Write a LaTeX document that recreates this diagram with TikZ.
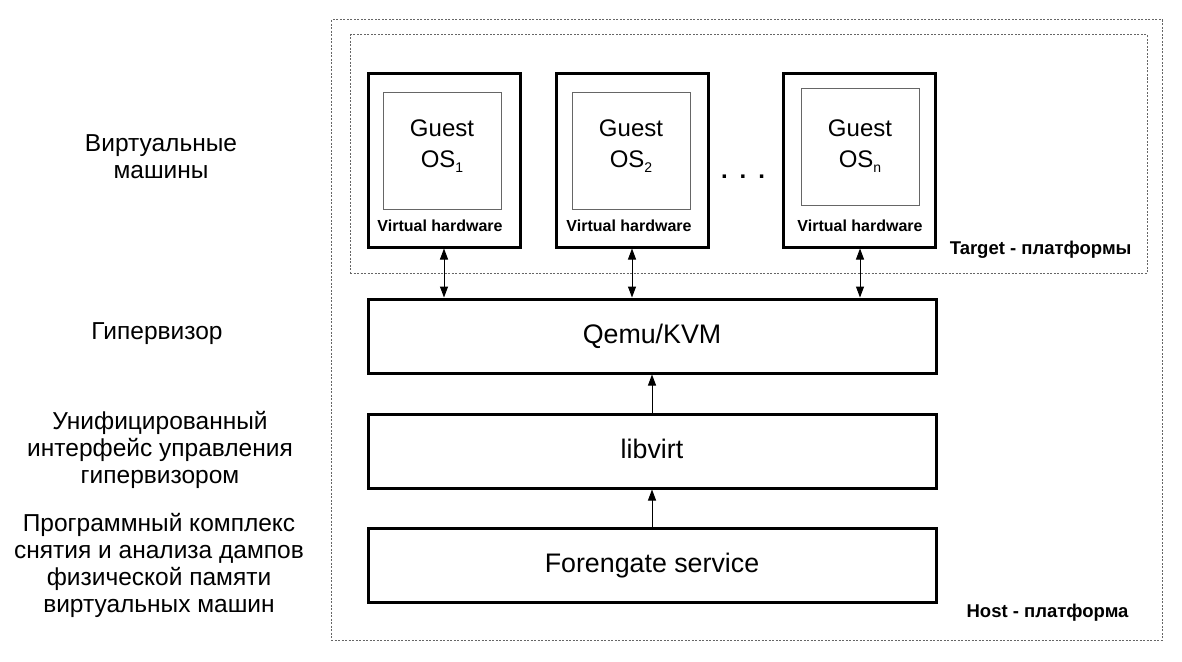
\documentclass[tikz,border=0pt]{standalone}
\usepackage{fontspec}
\setmainfont{Liberation Sans}
\usetikzlibrary{arrows.meta}
\newcommand{\mysub}[1]{\raisebox{-5pt}{\fontsize{14}{14}\selectfont #1}}
\begin{document}
\begin{tikzpicture}[x=1pt,y=-1pt,
  vmbox/.style={draw,line width=3pt,minimum width=152pt,minimum height=174pt,inner sep=0pt},
  osbox/.style={draw=black!60,line width=1pt,minimum width=118pt,minimum height=117pt,inner sep=0pt},
  layer/.style={draw,line width=3pt,minimum width=568pt,minimum height=74pt,inner sep=0pt,text depth=4pt,font=\fontsize{26.8}{30}\selectfont},
  region/.style={draw=black!60,line width=1pt,dash pattern=on 2pt off 1.5pt},
  lbl/.style={align=center,font=\fontsize{24.5}{27}\selectfont},
  hw/.style={font=\bfseries\fontsize{16}{18}\selectfont},
  plat/.style={font=\bfseries\fontsize{18.5}{20}\selectfont},
  guest/.style={align=center,font=\fontsize{24}{31}\selectfont},
  conn/.style={line width=1pt,-{Triangle[length=11pt,width=8pt]}},
  bconn/.style={line width=1pt,{Triangle[length=11pt,width=8pt]}-{Triangle[length=11pt,width=8pt]}}]
\useasboundingbox (0,0) rectangle (1182,661);
\fill[white] (0,0) rectangle (1182,661);
% regions
\node[region,minimum width=831pt,minimum height=620pt,inner sep=0pt] (host) at (746.5,330) {};
\node[region,minimum width=797pt,minimum height=238pt,inner sep=0pt] (target) at (748.5,154) {};
\node[plat,anchor=east] (targetlbl) at (1135,250) {Target - платформы};
\node[plat,anchor=east] (hostlbl) at (1132,613) {Host - платформа};
% VMs
\node[vmbox] (vm1) at (444,160) {};
\node[osbox] (os1) at (442,151) {};
\node[guest] (g1) at (442,146) {Guest\\OS\mysub{1}};
\node[hw] (hw1) at (440,226) {Virtual hardware};
\node[vmbox] (vm2) at (632.5,160) {};
\node[osbox] (os2) at (631,151) {};
\node[guest] (g2) at (631,146) {Guest\\OS\mysub{2}};
\node[hw] (hw2) at (629,226) {Virtual hardware};
\node[vmbox] (vm3) at (859.5,160) {};
\node[osbox] (os3) at (860,147) {};
\node[guest] (g3) at (860,146) {Guest\\OS\mysub{n}};
\node[hw] (hw3) at (860,226) {Virtual hardware};
\node[font=\bfseries\fontsize{24}{30}\selectfont] (dots) at (743,177) {.\,\,\,.\,\,\,.};
% layers
\node[layer] (qemu) at (652,336) {Qemu/KVM};
\node[layer] (libvirt) at (652,451) {libvirt};
\node[layer] (fore) at (652,565) {Forengate service};
% connectors
\draw[bconn] (vm1.south -| 444,0) -- (qemu.north -| 444,0);
\draw[bconn] (vm2.south -| 632,0) -- (qemu.north -| 632,0);
\draw[bconn] (vm3.south -| 860,0) -- (qemu.north -| 860,0);
\draw[conn] (libvirt.north) -- (qemu.south);
\draw[conn] (fore.north) -- (libvirt.south);
% left labels
\node[lbl] (l1) at (161,157) {Виртуальные\\машины};
\node[lbl] (l2) at (157,334) {Гипервизор};
\node[lbl] (l3) at (160,450) {Унифицированный\\интерфейс управления\\гипервизором};
\node[lbl] (l4) at (159,565) {Программный комплекс\\снятия и анализа дампов\\физической памяти\\виртуальных машин};
\end{tikzpicture}
\end{document}
